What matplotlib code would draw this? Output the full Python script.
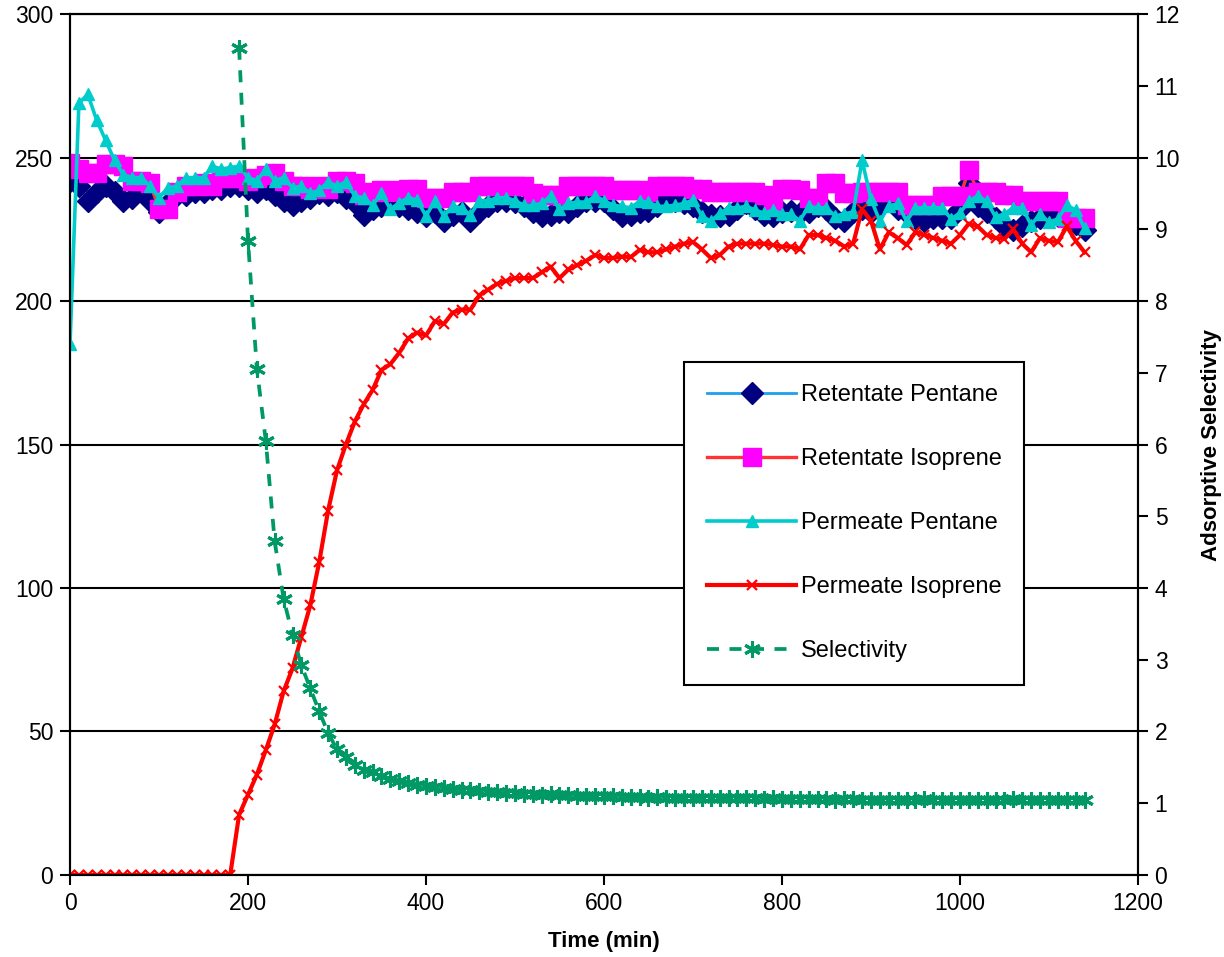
import numpy as np
import matplotlib
matplotlib.use("Agg")
import matplotlib.pyplot as plt

plt.rcParams['font.family'] = ['Liberation Sans', 'DejaVu Sans']

# time axis, one sample every 10 min
time_min = np.arange(0, 1141, 10)

retentate_pentane = [
    242, 240, 235, 238, 240, 238, 235, 236, 239, 235,
    231, 234, 237, 237, 238, 238, 239, 239, 240, 240,
    239, 238, 239, 237, 235, 233.5, 235, 236, 237.5, 237,
    238, 236, 234, 230, 232, 233, 234, 233, 232, 231,
    229.6, 231, 228, 230, 231, 228, 231, 233, 235, 235,
    234.5, 233, 231, 229.6, 230, 231, 231, 233, 234.8, 234.8,
    234.8, 232, 229.6, 230, 231, 231.5, 233, 236, 235, 234,
    233, 231, 230, 229.6, 230, 232, 234, 232, 230, 229.6,
    231, 231.5, 230.6, 231, 233, 232, 229, 228, 231, 232,
    231, 233, 234.8, 232, 230.7, 229, 228, 229, 229, 229,
    232, 241, 233, 231, 229, 226, 224.6, 226, 228, 229,
    230, 229.6, 229.6, 227, 224.6]

retentate_isoprene = [
    248, 246, 244.6, 244.6, 247.7, 247.7, 247, 242, 242, 241,
    232, 232, 238, 240, 240, 241, 240, 243, 243, 243,
    242, 243, 244, 244.6, 242, 240, 240, 239, 240, 239,
    242, 242, 241, 237, 238, 238.7, 238, 238.7, 239, 239,
    236, 236, 236, 238, 238, 238, 240, 240, 240, 240,
    240, 240, 237.6, 237, 237, 237, 240, 240, 240, 240,
    240, 238.7, 238.7, 238.7, 238.7, 238, 240, 240, 240, 240,
    239, 239, 238, 238, 238, 238, 238, 238, 237, 235,
    239, 239, 238.7, 236, 236, 241, 241, 237.6, 237.6, 238,
    238, 238, 238, 238, 233.4, 233.4, 233.4, 233.4, 236.5, 236.5,
    236.5, 245.6, 238, 238, 238, 237, 237, 234.8, 234.8, 234.8,
    235, 235, 229, 229, 229]

permeate_pentane = [
    185, 269, 272, 263, 256, 249, 244, 243, 243, 240,
    236, 239.5, 240, 243, 243, 243, 247, 246, 246.5, 247,
    243, 242, 246, 242, 243, 239.5, 240, 237.6, 238.6, 241.6,
    240, 241.6, 236.6, 236, 233.4, 237.5, 232, 234.3, 236, 235.2,
    229.6, 235, 229.6, 233, 232.5, 230, 235, 235, 236, 236,
    235, 233.4, 233.4, 234, 236.6, 232, 234, 234.5, 234.5, 236.6,
    235, 233.4, 233, 232.5, 234.8, 234.5, 233, 233, 233.4, 234,
    235.2, 229.6, 227.8, 230.6, 232.5, 232.5, 233, 231.7, 230.6, 231.7,
    230.4, 230.4, 228, 233, 232.5, 232.5, 229.6, 230.4, 231, 249,
    235.5, 227.8, 233, 234, 227.8, 232.5, 232.5, 232.5, 232.5, 228.6,
    230.7, 234.8, 236.6, 234.8, 229.3, 230.4, 232.5, 232.5, 226.5, 230.4,
    227.5, 228.6, 233.4, 231.7, 225.4]

permeate_isoprene = [
    0, 0, 0, 0, 0, 0, 0, 0, 0, 0,
    0, 0, 0, 0, 0, 0, 0, 0, 0, 21,
    28, 35, 43.5, 52.5, 64, 72, 83, 94, 109, 127,
    141, 150, 158, 164, 169, 176, 178, 182, 187, 189,
    188, 193, 192, 196, 197, 197, 202, 204, 206, 207,
    208, 208, 208, 210, 212, 208, 211, 212.5, 214, 216,
    215, 215, 215.5, 215.3, 217.8, 217, 217, 218, 219, 220,
    220.6, 218, 215, 216, 219, 220, 220, 220, 220, 219.5,
    219, 219, 218, 223, 223, 222, 221, 219, 220, 232,
    228, 218, 224, 222, 219.5, 224, 223, 222, 221, 220,
    223, 227, 226, 223, 222, 221.6, 225, 220, 217, 222,
    221, 220.5, 226, 221, 217]

# selectivity only exists once isoprene breaks through (t >= 190)
selectivity = [np.nan] * 19 + [
    11.53,
    8.84, 7.05, 6.05, 4.65, 3.85, 3.35, 2.92, 2.6, 2.28, 1.98,
    1.75, 1.65, 1.53, 1.47, 1.43, 1.38, 1.34, 1.31, 1.28, 1.26,
    1.24, 1.22, 1.21, 1.2, 1.18, 1.18, 1.17, 1.15, 1.15, 1.14,
    1.14, 1.13, 1.13, 1.12, 1.13, 1.11, 1.11, 1.1, 1.1, 1.1,
    1.1, 1.1, 1.09, 1.09, 1.09, 1.08, 1.09, 1.08, 1.08, 1.08,
    1.07, 1.07, 1.07, 1.07, 1.07, 1.07, 1.07, 1.07, 1.06, 1.07,
    1.06, 1.06, 1.06, 1.06, 1.06, 1.06, 1.05, 1.06, 1.06, 1.05,
    1.05, 1.05, 1.05, 1.05, 1.04, 1.05, 1.06, 1.05, 1.05, 1.05,
    1.05, 1.05, 1.04, 1.04, 1.05, 1.05, 1.06, 1.05, 1.04, 1.04,
    1.04, 1.04, 1.04, 1.04, 1.04]

fig = plt.figure(figsize=(12.24, 9.57), dpi=100)
ax = fig.add_axes([0.0572, 0.0857, 0.8725, 0.8996])
ax2 = ax.twinx()

l1, = ax.plot(time_min, retentate_pentane, color='#1EA0F0', lw=2, marker='D',
              ms=11, mfc='#000080', mec='#000080', label='Retentate Pentane')
l2, = ax.plot(time_min, retentate_isoprene, color='#FF3333', lw=2.4, marker='s',
              ms=13, mfc='#FF00FF', mec='#FF00FF', label='Retentate Isoprene')
l3, = ax.plot(time_min, permeate_pentane, color='#00CCCC', lw=2.6, marker='^',
              ms=9, mfc='#00CCCC', mec='#00CCCC', label='Permeate Pentane')
l4, = ax.plot(time_min, permeate_isoprene, color='#FF0000', lw=3, marker='x',
              ms=7, mew=1.6, label='Permeate Isoprene')
l5, = ax2.plot(time_min, selectivity, color='#009966', lw=2.7, ls=(0, (3.2, 2.8)),
               marker=(6, 2, 0), ms=12, mew=2.2, label='Selectivity')

ax.set_xlim(0, 1200)
ax.set_ylim(0, 300)
ax2.set_ylim(0, 12)
ax.set_xticks(range(0, 1201, 200))
ax.set_yticks(range(0, 301, 50))
ax2.set_yticks(range(0, 13, 1))
ax.yaxis.grid(True, color='black', lw=1.5)
ax.set_axisbelow(True)

for a in (ax, ax2):
    for s in a.spines.values():
        s.set_linewidth(1.5)
    a.tick_params(direction='out', length=7, width=1.5, labelsize=16.5, pad=5)

ax.set_xlabel('Time (min)', fontsize=16, fontweight='bold', labelpad=12)
ax2.set_ylabel('Adsorptive Selectivity', fontsize=16, fontweight='bold', labelpad=15)

leg = ax.legend(handles=[l1, l2, l3, l4, l5], loc='upper left',
                bbox_to_anchor=(0.559, 0.622), bbox_transform=fig.transFigure,
                fontsize=17, frameon=True, fancybox=False, framealpha=1,
                edgecolor='black', handlelength=3.8, handletextpad=0.2,
                labelspacing=1.78, borderpad=0.95, borderaxespad=0)
leg.get_frame().set_linewidth(1.5)
leg.remove()
ax2.add_artist(leg)

fig.savefig('out.png', dpi=100)
